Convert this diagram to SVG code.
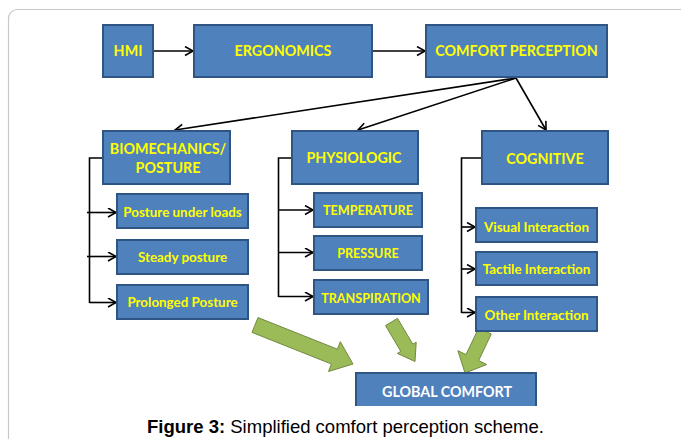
<svg xmlns="http://www.w3.org/2000/svg" width="681" height="439" viewBox="0 0 681 439">
<style>
.box{fill:#4F81BD;stroke:#2F5585;stroke-width:2}
.t{font-family:Lato,"Open Sans","Liberation Sans",sans-serif;font-weight:bold;fill:#FFFF00;text-anchor:middle}
.big{font-size:14.3px}
.sm{font-size:13.4px}
.sc{font-size:12.6px}
.ln{stroke:#000;stroke-width:1.6;fill:none}
.ga{fill:#9BBB59;stroke:#71893F;stroke-width:1}
.cap{font-family:"Liberation Sans",Arial,sans-serif;font-size:18.5px;fill:#000}
</style>
<defs>
<marker id="ah" markerUnits="userSpaceOnUse" markerWidth="12" markerHeight="12" refX="9" refY="5" orient="auto">
<path d="M1,0.5 L9,5 L1,9.5" fill="none" stroke="#000" stroke-width="1.6"/>
</marker>
</defs>
<rect x="0" y="0" width="681" height="439" fill="#fff"/>
<rect x="8.5" y="9.5" width="700" height="470" rx="9" fill="none" stroke="#c8c8c8" stroke-width="1.2"/>

<g id="connectors">
<line class="ln" x1="153" y1="51" x2="193" y2="51" marker-end="url(#ah)"/>
<line class="ln" x1="373" y1="51" x2="425" y2="51" marker-end="url(#ah)"/>
<line class="ln" x1="516" y1="78" x2="175" y2="130" marker-end="url(#ah)"/>
<line class="ln" x1="516" y1="78" x2="358" y2="130" marker-end="url(#ah)"/>
<line class="ln" x1="516" y1="78" x2="546" y2="130" marker-end="url(#ah)"/>
<polyline class="ln" points="103,158 89.5,158 89.5,303"/>
<line class="ln" x1="87" y1="212.5" x2="116" y2="212.5" marker-end="url(#ah)"/>
<line class="ln" x1="87" y1="256.5" x2="116" y2="256.5" marker-end="url(#ah)"/>
<line class="ln" x1="89.5" y1="302.5" x2="116" y2="302.5" marker-end="url(#ah)"/>
<polyline class="ln" points="292,158 278.5,158 278.5,297"/>
<line class="ln" x1="278.5" y1="210" x2="313" y2="210" marker-end="url(#ah)"/>
<line class="ln" x1="278.5" y1="252.5" x2="313" y2="252.5" marker-end="url(#ah)"/>
<line class="ln" x1="278.5" y1="296.5" x2="313" y2="296.5" marker-end="url(#ah)"/>
<polyline class="ln" points="482,158 461.5,158 461.5,313"/>
<line class="ln" x1="461.5" y1="227" x2="475" y2="227" marker-end="url(#ah)"/>
<line class="ln" x1="461.5" y1="269" x2="475" y2="269" marker-end="url(#ah)"/>
<line class="ln" x1="461.5" y1="312.5" x2="475" y2="312.5" marker-end="url(#ah)"/>
<polygon class="ga" points="258,317.6 337.4,349.2 340.3,341.7 353,364 328.5,371.5 331.4,364 252,332.4"/>
<polygon class="ga" points="397.5,318.4 412.8,344.2 416.2,342.2 415,361.5 397.4,353.4 400.8,351.4 385.5,325.6"/>
<polygon class="ga" points="491.3,334 478.6,360.6 486.7,364.5 465,373 457.9,350.7 466,354.6 478.7,328"/>
</g>

<g id="hmi"><rect class="box" x="103" y="25" width="50" height="52"/><text class="t big" x="128" y="56">HMI</text></g>
<g id="ergonomics"><rect class="box" x="194" y="25" width="178" height="52"/><text class="t big" x="283" y="56">ERGONOMICS</text></g>
<g id="comfort-perception"><rect class="box" x="426" y="25" width="181" height="52"/><text class="t big" x="516.5" y="56">COMFORT PERCEPTION</text></g>

<g id="biomechanics"><rect class="box" x="103" y="131" width="127" height="53"/><text class="t big" x="168" y="154">BIOMECHANICS/</text><text class="t big" x="168" y="173">POSTURE</text></g>
<g id="physiologic"><rect class="box" x="292" y="131" width="126" height="53"/><text class="t big" x="354" y="163">PHYSIOLOGIC</text></g>
<g id="cognitive"><rect class="box" x="482" y="131" width="126" height="53"/><text class="t big" x="545" y="164">COGNITIVE</text></g>

<g id="posture-loads"><rect class="box" x="117" y="194" width="131" height="34"/><text class="t sm" x="182.5" y="217">Posture under loads</text></g>
<g id="steady-posture"><rect class="box" x="117" y="240" width="131" height="34"/><text class="t sm" x="182.5" y="261.5">Steady posture</text></g>
<g id="prolonged-posture"><rect class="box" x="117" y="285" width="131" height="34"/><text class="t sm" x="182.5" y="307">Prolonged Posture</text></g>

<g id="temperature"><rect class="box" x="314" y="193" width="108" height="34"/><text class="t sc" x="368" y="215">TEMPERATURE</text></g>
<g id="pressure"><rect class="box" x="314" y="236" width="108" height="34"/><text class="t sc" x="368" y="257.5">PRESSURE</text></g>
<g id="transpiration"><rect class="box" x="314" y="280" width="114" height="34"/><text class="t sc" x="371" y="303">TRANSPIRATION</text></g>

<g id="visual"><rect class="box" x="476" y="208" width="121" height="34"/><text class="t sm" x="536.5" y="232">Visual Interaction</text></g>
<g id="tactile"><rect class="box" x="476" y="252" width="121" height="33"/><text class="t sm" x="536.5" y="273.5">Tactile Interaction</text></g>
<g id="other"><rect class="box" x="476" y="297" width="121" height="34"/><text class="t sm" x="536.5" y="319.5">Other Interaction</text></g>

<g id="global-comfort">
<rect x="356" y="373" width="180" height="33" fill="#4F81BD"/>
<path d="M356,406 L356,373 L536,373 L536,406" fill="none" stroke="#2F5585" stroke-width="2"/>
<text class="t big" x="447" y="397" style="fill:#fff">GLOBAL COMFORT</text>
</g>

<text class="cap" x="147" y="433"><tspan font-weight="bold">Figure 3:</tspan> Simplified comfort perception scheme.</text>
</svg>
